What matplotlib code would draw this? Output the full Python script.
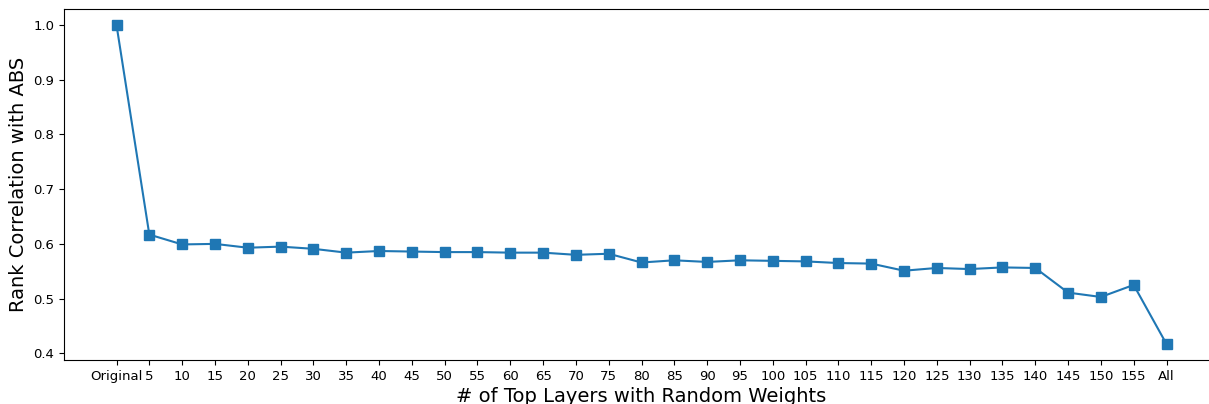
import numpy as np
import matplotlib.pyplot as plt

labels = ['Original'] + [str(n) for n in range(5, 160, 5)] + ['All']
rank_corr = [1.000, 0.617, 0.599, 0.600, 0.593, 0.595, 0.591, 0.584, 0.587,
             0.586, 0.585, 0.585, 0.584, 0.584, 0.580, 0.582, 0.566, 0.570,
             0.567, 0.570, 0.569, 0.568, 0.565, 0.564, 0.551, 0.556, 0.554,
             0.557, 0.556, 0.511, 0.503, 0.525, 0.417]

x = np.arange(len(labels))

fig = plt.figure(figsize=(12.09, 4.04), dpi=100)
ax = fig.add_axes([64 / 1209, 44 / 404, 1155 / 1209, 351 / 404])
ax.plot(x, rank_corr, marker='s', markersize=6.5, linewidth=1.5, color='#1f77b4')
ax.set_xticks(x)
ax.set_xticklabels(labels)
ax.tick_params(labelsize=9.5)
ax.set_ylabel('Rank Correlation with ABS', fontsize=14)
ax.set_xlabel('# of Top Layers with Random Weights', fontsize=14, labelpad=3)

fig.savefig('out.png', dpi=100)
